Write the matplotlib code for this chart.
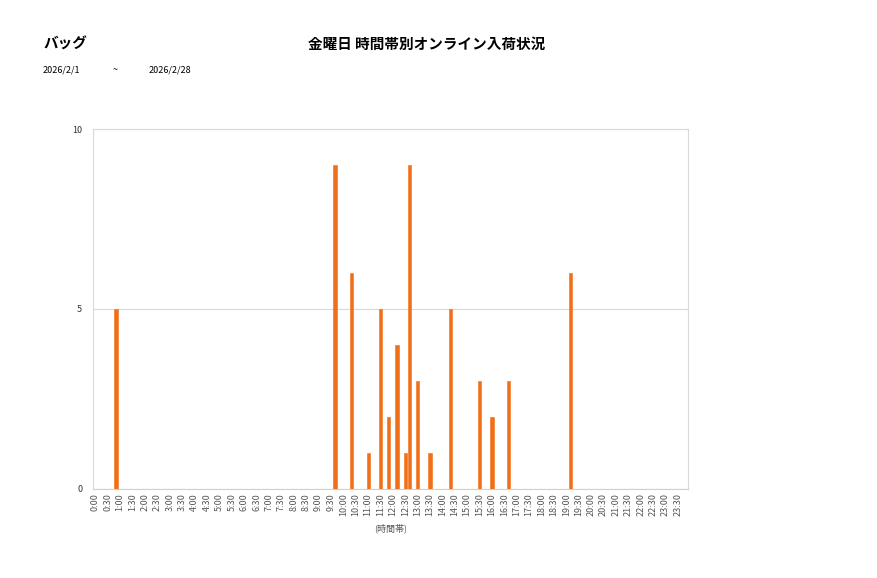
import numpy as np
from matplotlib import pyplot as plt

plt.rcParams['font.family'] = ['Noto Sans CJK JP', 'DejaVu Sans']

# 10分刻みの時間帯 (0:00 .. 23:50)
slots = [f'{h}:{m:02d}' for h in range(24) for m in range(0, 60, 10)]

# 入荷のあった時間帯と件数
arrival_times = ['0:50', '9:40', '10:20', '11:00', '11:30', '11:50', '12:10',
                 '12:30', '12:40', '13:00', '13:30', '14:20', '15:30', '16:00',
                 '16:40', '19:10']
arrival_counts = [5, 9, 6, 1, 5, 2, 4, 1, 9, 3, 1, 5, 3, 2, 3, 6]

counts = np.zeros(len(slots))
for t, c in zip(arrival_times, arrival_counts):
    counts[slots.index(t)] = c

tick_labels = slots[::3]

fig = plt.figure(figsize=(8.77, 5.78), dpi=100)
ax = fig.add_axes([0.1064, 0.154, 0.6784, 0.6228])

x = np.arange(len(slots))
ax.bar(x, counts, width=0.75, color='#F07018', edgecolor='#F07018',
       linewidth=0.4, zorder=3)

ax.set_xlim(-0.5, len(slots) - 0.5)
ax.set_ylim(0, 10)
ax.set_yticks([0, 5, 10])
ax.set_xticks(x[::3])
ax.set_xticklabels(tick_labels, rotation=90, fontsize=6.5, color='#555555')
ax.tick_params(axis='y', labelsize=6.5, colors='#333333', length=0, pad=8)
ax.tick_params(axis='x', length=0, pad=3)
ax.grid(axis='y', color='#D9D9D9', linewidth=0.8, zorder=0)
for side in ['left', 'top', 'right']:
    ax.spines[side].set_color('#D9D9D9')
    ax.spines[side].set_linewidth(0.8)
ax.spines['bottom'].set_color('#D0D0D0')
ax.spines['bottom'].set_linewidth(0.8)

ax.set_xlabel('(時間帯)', fontsize=6.5, color='#555555', labelpad=5)

fig.text(0.05, 0.924, 'バッグ', fontsize=10.5, fontweight='bold', va='center')
fig.text(0.487, 0.924, '金曜日 時間帯別オンライン入荷状況', fontsize=10.5,
         fontweight='bold', va='center', ha='center')
fig.text(0.048, 0.879, '2026/2/1', fontsize=6.5, va='center')
fig.text(0.128, 0.879, '~', fontsize=6.5, va='center')
fig.text(0.169, 0.879, '2026/2/28', fontsize=6.5, va='center')

fig.savefig('out.png', dpi=100)
